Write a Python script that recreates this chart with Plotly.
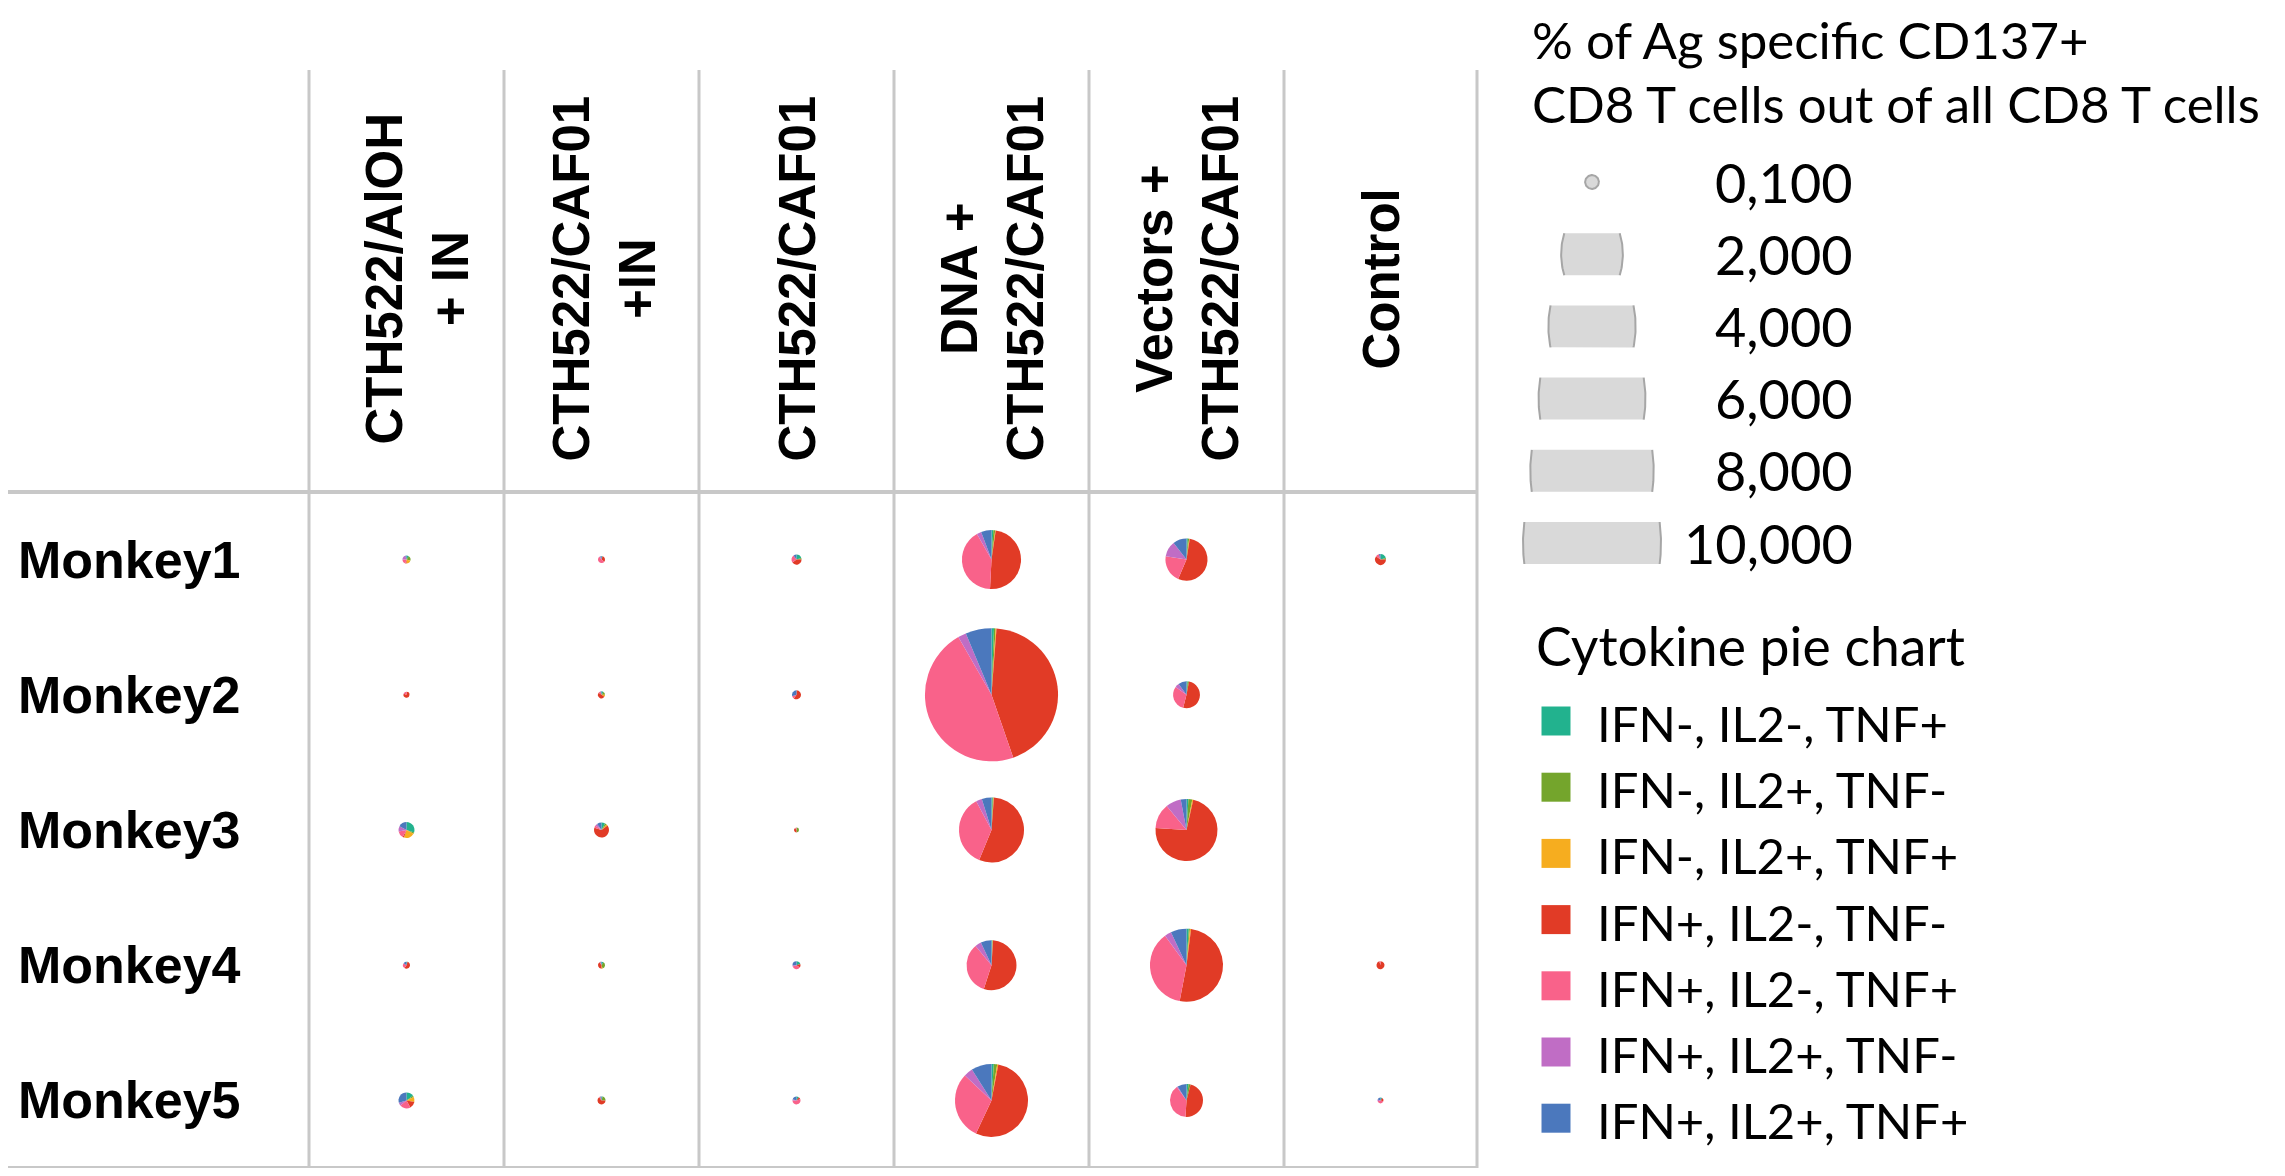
import numpy as np
import plotly.graph_objects as go

W, H = 2285, 1176
OFF = 8                       # page body margin of the html
FW, FH = W - 2 * OFF, H - 2 * OFF

# ---- data ----
groups = ["CTH522/AlOH<br>+ IN", "CTH522/CAF01<br>+IN", "CTH522/CAF01",
          "DNA +<br>CTH522/CAF01", "Vectors +<br>CTH522/CAF01", "Control"]
monkeys = ["Monkey1", "Monkey2", "Monkey3", "Monkey4", "Monkey5"]
cytokines = ["IFN-, IL2-, TNF+", "IFN-, IL2+, TNF-", "IFN-, IL2+, TNF+",
             "IFN+, IL2-, TNF-", "IFN+, IL2-, TNF+", "IFN+, IL2+, TNF-",
             "IFN+, IL2+, TNF+"]
cyto_colors = ["#22B28E", "#74A52C", "#F6AD1F", "#E13B26",
               "#F9628A", "#C06DC5", "#4B78BD"]

# % of Ag specific CD137+ CD8 T cells out of all CD8 T cells (Monkey1..5)
aloh_total = [0.034, 0.019, 0.134, 0.026, 0.134]
caf01_in_total = [0.026, 0.026, 0.118, 0.026, 0.034]
caf01_total = [0.053, 0.043, 0.013, 0.034, 0.034]
dna_total = [1.83, 9.3, 2.22, 1.31, 2.8]
vec_total = [0.93, 0.38, 2.02, 2.8, 0.57]
ctrl_total = [0.064, 0, 0, 0.034, 0.019]

# cytokine profile share (%) per monkey, in the order of `cytokines`
aloh_mix = [[10, 20, 20, 5, 20, 20, 5],
            [0, 0, 0, 80, 20, 0, 0],
            [30, 3, 22, 3, 14, 11, 17],
            [5, 0, 0, 55, 25, 0, 15],
            [15, 3, 10, 14, 22, 6, 30]]
caf01_in_mix = [[5, 0, 0, 30, 55, 5, 5],
                [10, 15, 10, 50, 10, 0, 5],
                [8, 4, 3, 65, 5, 5, 10],
                [10, 35, 5, 40, 5, 0, 5],
                [5, 20, 0, 65, 5, 0, 5]]
caf01_mix = [[20, 5, 0, 40, 25, 0, 10],
             [0, 0, 0, 60, 10, 0, 30],
             [0, 50, 0, 40, 10, 0, 0],
             [20, 0, 0, 15, 35, 5, 25],
             [10, 0, 0, 10, 55, 5, 20]]
dna_mix = [[1, 1, 0.3, 48.5, 41, 2.5, 5.7],
           [0.6, 0.4, 0.2, 43.5, 47, 2, 6.3],
           [0.6, 0.4, 0.2, 55, 36, 3, 4.8],
           [0.5, 0.3, 0.2, 54, 34, 4, 7],
           [1, 1.5, 0.5, 54, 30, 4, 9]]
vec_mix = [[1, 1, 0.5, 54, 21, 12, 10.5],
           [1.5, 1.5, 0, 51, 31, 5, 10],
           [1, 2, 0.5, 72.5, 13, 8, 3],
           [1, 0.5, 0.5, 51, 37, 3, 7],
           [2, 2, 0, 47, 39, 1, 9]]
ctrl_mix = [[20, 5, 0, 60, 10, 0, 5],
            [0, 0, 0, 0, 0, 0, 0],
            [0, 0, 0, 0, 0, 0, 0],
            [0, 0, 0, 95, 5, 0, 0],
            [10, 0, 0, 20, 40, 10, 20]]

size_ticks = [0.1, 2, 4, 6, 8, 10]
size_labels = ["0,100", "2,000", "4,000", "6,000", "8,000", "10,000"]

totals = [aloh_total, caf01_in_total, caf01_total, dna_total, vec_total, ctrl_total]
mixes = [aloh_mix, caf01_in_mix, caf01_mix, dna_mix, vec_mix, ctrl_mix]

# ---- geometry (page pixels) ----
col_edges = [309, 504, 699, 894, 1089, 1284, 1477]
col_mid = [(a + b) / 2 for a, b in zip(col_edges[:-1], col_edges[1:])]
top_y, head_y, bot_y = 70, 492, 1168
row_h = (bot_y - head_y) / len(monkeys)
row_mid = [head_y + row_h * (i + 0.5) for i in range(len(monkeys))]
SIZE_REF = 138  # bubble diameter (px) for 10 %

def diam(v):
    return SIZE_REF * np.sqrt(v / 10.0)

FONT_B = "Liberation Sans"
FONT_L = "Lato"

fig = go.Figure()

# table lines
vx, vy = [], []
for x in col_edges:
    vx += [x, x, None]
    vy += [top_y, bot_y, None]
fig.add_trace(go.Scatter(x=vx, y=vy, mode="lines", line=dict(color="#C8C8C8", width=3),
                         hoverinfo="skip", showlegend=False))
fig.add_trace(go.Scatter(x=[0, col_edges[-1], None, 0, col_edges[-1]],
                         y=[head_y, head_y, None, bot_y, bot_y], mode="lines",
                         line=dict(color="#C8C8C8", width=4), hoverinfo="skip", showlegend=False))

# pies
for c, (tot, mix) in enumerate(zip(totals, mixes)):
    for r in range(len(monkeys)):
        v = tot[r]
        if v <= 0:
            continue
        share = np.array(mix[r], dtype=float)
        vals = v * share / share.sum()
        d = diam(v)
        cx, cy = col_mid[c] - OFF, row_mid[r] - OFF
        fig.add_trace(go.Pie(
            values=vals, labels=cytokines, sort=False, direction="clockwise", rotation=0,
            marker=dict(colors=cyto_colors, line=dict(width=0)),
            textinfo="none", hoverinfo="label+value", showlegend=False,
            domain=dict(x=[(cx - d / 2) / FW, (cx + d / 2) / FW],
                        y=[1 - (cy + d / 2) / FH, 1 - (cy - d / 2) / FH])))

# headers and row labels
head_shift = [10, 2, 0, 0, 0, 0]
for c, g in enumerate(groups):
    fig.add_annotation(x=col_mid[c], y=(top_y + head_y) / 2 - 2, text="<b>" + g + "</b>",
                       textangle=-90, showarrow=False, xshift=head_shift[c],
                       font=dict(family=FONT_B, size=51, color="black"))
for r, m in enumerate(monkeys):
    fig.add_annotation(x=16, y=row_mid[r], text="<b>" + m + "</b>", xanchor="left",
                       showarrow=False, font=dict(family=FONT_B, size=52, color="black"))

# size legend
fig.add_annotation(x=1530, y=39, text="% of Ag specific CD137+", xanchor="left",
                   showarrow=False, font=dict(family=FONT_L, size=51, color="black"))
fig.add_annotation(x=1530, y=103, text="CD8 T cells out of all CD8 T cells", xanchor="left",
                   showarrow=False, font=dict(family=FONT_L, size=51, color="black"))
leg_x, leg_y0, leg_dy, band = 1592, 182, 72.2, 21
t = np.linspace(0, 2 * np.pi, 121)
for i, (v, lab) in enumerate(zip(size_ticks, size_labels)):
    cy = leg_y0 + i * leg_dy
    a = diam(v) / 2
    if a <= band:
        ex, ey = a * np.cos(t), a * np.sin(t)
        fig.add_trace(go.Scatter(x=leg_x + ex, y=cy + ey, mode="lines", fill="toself",
                                 fillcolor="#D9D9D9", line=dict(color="#A6A6A6", width=2),
                                 hoverinfo="skip", showlegend=False))
    else:
        b = 1.55 * a
        ex, ey = a * np.cos(t), np.clip(b * np.sin(t), -band, band)
        fig.add_trace(go.Scatter(x=leg_x + ex, y=cy + ey, mode="lines", fill="toself",
                                 fillcolor="#D9D9D9", line=dict(width=0),
                                 hoverinfo="skip", showlegend=False))
        s = np.linspace(-np.arcsin(band / b), np.arcsin(band / b), 30)
        for sign in (1, -1):
            fig.add_trace(go.Scatter(x=leg_x + sign * a * np.cos(s), y=cy + b * np.sin(s),
                                     mode="lines", line=dict(color="#A6A6A6", width=2),
                                     hoverinfo="skip", showlegend=False))
    fig.add_annotation(x=1855, y=cy, text=lab, xanchor="right", showarrow=False,
                       font=dict(family=FONT_L, size=54, color="black"))

# cytokine legend
fig.add_annotation(x=1534, y=645, text="Cytokine pie chart", xanchor="left",
                   showarrow=False, font=dict(family=FONT_L, size=53.5, color="black"))
sq_y = [721 + 66.2 * i for i in range(len(cytokines))]
fig.add_trace(go.Scatter(x=[1556] * len(cytokines), y=sq_y, mode="markers",
                         marker=dict(symbol="square", size=29, color=cyto_colors),
                         hoverinfo="skip", showlegend=False))
for yy, lab in zip(sq_y, cytokines):
    fig.add_annotation(x=1595, y=yy + 2, text=lab, xanchor="left", showarrow=False,
                       font=dict(family=FONT_L, size=49, color="black"))

# axes span the page, shifted by the body margin so 1 unit = 1 page pixel
fig.update_xaxes(range=[OFF, W - OFF], visible=False, fixedrange=True)
fig.update_yaxes(range=[H - OFF, OFF], visible=False, fixedrange=True)
fig.update_layout(width=FW, height=FH, margin=dict(l=0, r=0, t=0, b=0),
                  paper_bgcolor="white", plot_bgcolor="white", showlegend=False)

fig.write_html("out.html")
